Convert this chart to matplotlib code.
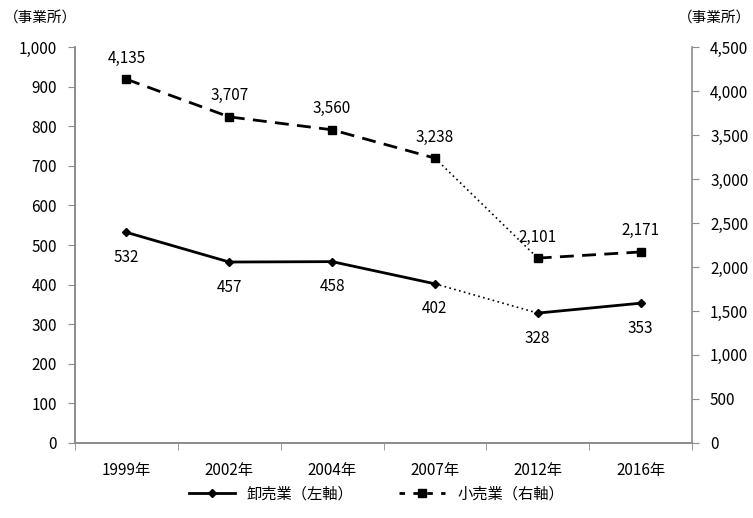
import matplotlib
matplotlib.use("Agg")
import matplotlib.pyplot as plt
from matplotlib.ticker import FuncFormatter, FixedLocator
from matplotlib.lines import Line2D

plt.rcParams['font.family'] = ['Noto Sans CJK JP', 'DejaVu Sans']

years = ['1999年', '2002年', '2004年', '2007年', '2012年', '2016年']
wholesale = [532, 457, 458, 402, 328, 353]      # 卸売業 (left axis)
retail = [4135, 3707, 3560, 3238, 2101, 2171]   # 小売業 (right axis)

x = list(range(len(years)))
grey = '#8c8c8c'

fig = plt.figure(figsize=(7.53, 5.18), dpi=100)
ax = fig.add_axes([0.0996, 0.145, 0.8194, 0.764])
ax2 = ax.twinx()

def draw(a, vals, marker, ms, ls):
    # 2007 -> 2012 drawn dotted
    a.plot(x[:4], vals[:4], color='black', lw=2, ls=ls, marker=marker, ms=ms)
    a.plot(x[3:5], vals[3:5], color='black', lw=1.2, ls=(0, (1, 2)))
    a.plot(x[4:], vals[4:], color='black', lw=2, ls=ls, marker=marker, ms=ms)

draw(ax, wholesale, 'D', 4.5, '-')
draw(ax2, retail, 's', 6, (0, (5, 3)))

for xi, v in zip(x, wholesale):
    ax.annotate(f'{v:,}', (xi, v), xytext=(0, -12), textcoords='offset points',
                ha='center', va='top', fontsize=11)
for xi, v in zip(x, retail):
    ax2.annotate(f'{v:,}', (xi, v), xytext=(0, 9), textcoords='offset points',
                 ha='center', va='bottom', fontsize=11)

ax.set_xlim(-0.5, 5.5)
ax.set_ylim(0, 1000)
ax2.set_ylim(0, 4500)
ax.set_yticks(range(0, 1001, 100))
ax2.set_yticks(range(0, 4501, 500))
fmt = FuncFormatter(lambda v, p: f'{int(v):,}')
ax.yaxis.set_major_formatter(fmt)
ax2.yaxis.set_major_formatter(fmt)

ax.set_xticks(x)
ax.set_xticklabels(years, fontsize=11)
ax.xaxis.set_minor_locator(FixedLocator([i - 0.5 for i in range(7)]))
ax.tick_params(axis='x', which='major', length=0, pad=14)
ax.tick_params(axis='x', which='minor', length=5, color=grey)
ax.tick_params(axis='y', length=5, color=grey, labelsize=11, pad=8)
ax2.tick_params(axis='y', length=5, color=grey, labelsize=11, pad=8)

for a in (ax, ax2):
    a.spines['top'].set_visible(False)
    for s in ('left', 'right', 'bottom'):
        a.spines[s].set_color(grey)
        a.spines[s].set_linewidth(1.2)
ax.spines['right'].set_visible(False)

fig.text(0.005, 0.965, '（事業所）', fontsize=10.5, ha='left', va='center')
fig.text(0.997, 0.965, '（事業所）', fontsize=10.5, ha='right', va='center')

handles = [
    Line2D([], [], color='black', lw=2, marker='D', ms=4.5),
    Line2D([], [], color='black', lw=2, ls=(0, (2, 3)), marker='s', ms=5.5),
]
fig.legend(handles, ['卸売業（左軸）', '小売業（右軸）'], loc='center',
           bbox_to_anchor=(0.5, 0.047), ncol=2, frameon=False, fontsize=11,
           handlelength=3, columnspacing=3)

fig.savefig('out.png', dpi=100)
